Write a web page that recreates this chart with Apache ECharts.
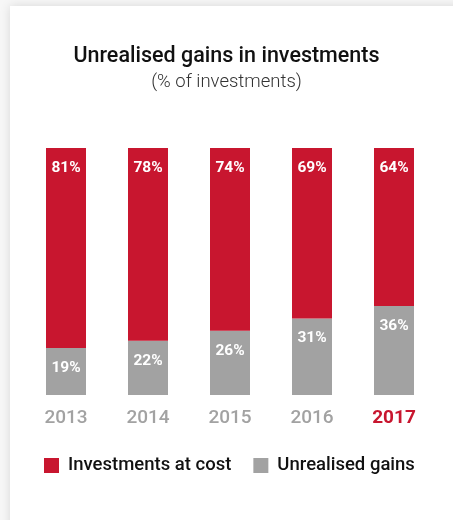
<!DOCTYPE html>
<html>
<head>
<meta charset="utf-8">
<script src="https://cdn.jsdelivr.net/npm/echarts@6/dist/echarts.min.js"></script>
<style>
  html, body { margin: 0; padding: 0; width: 453px; height: 520px; overflow: hidden; background: #f7f7f7; }
  #card { position: absolute; left: 10px; top: 6px; width: 460px; height: 530px; background: #fff; box-shadow: 0 0 10px rgba(0,0,0,0.13); }
  #chart { position: absolute; left: 0; top: 0; width: 453px; height: 520px; }
</style>
</head>
<body>
<div id="card"></div>
<div id="chart"></div>
<script>
const years = ['2013', '2014', '2015', '2016', '2017'];
const atCost = [81, 78, 74, 69, 64];
const unrealised = [19, 22, 26, 31, 36];
const highlightYear = '2017';

const RED = '#c8162f';
const GREY = '#a2a2a2';
const FONT = 'Roboto';

const chart = echarts.init(document.getElementById('chart'));

const segLabel = {
  show: true,
  position: 'insideTop',
  distance: 12,
  color: '#fff',
  fontFamily: FONT,
  fontSize: 15.5,
  fontWeight: 'bold',
  formatter: p => p.value + '%'
};

chart.setOption({
  title: {
    text: 'Unrealised gains in investments',
    subtext: '(% of investments)',
    left: 'center',
    top: 41,
    itemGap: 5,
    textStyle: { fontFamily: FONT, fontSize: 21.5, fontWeight: 500, color: '#111' },
    subtextStyle: { fontFamily: FONT, fontSize: 18.5, fontWeight: 300, color: '#333' }
  },
  legend: {
    top: 451,
    left: 39,
    itemWidth: 15,
    itemHeight: 15,
    itemGap: 22,
    icon: 'rect',
    textStyle: { fontFamily: FONT, fontSize: 18.5, fontWeight: 500, color: '#111', padding: [0, 0, 0, 4] },
    data: ['Investments at cost', 'Unrealised gains']
  },
  grid: { left: 25, right: 18, top: 148, bottom: 125 },
  xAxis: {
    type: 'category',
    data: years,
    axisLine: { show: false },
    axisTick: { show: false },
    axisLabel: {
      interval: 0,
      margin: 14,
      fontFamily: FONT,
      fontSize: 19,
      fontWeight: 500,
      color: GREY,
      formatter: v => v === highlightYear ? '{hi|' + v + '}' : v,
      rich: { hi: { fontFamily: FONT, fontSize: 19, fontWeight: 'bold', color: RED } }
    }
  },
  yAxis: { type: 'value', min: 0, max: 100, show: false },
  series: [
    {
      name: 'Unrealised gains',
      type: 'bar',
      stack: 'total',
      barWidth: 40,
      data: unrealised,
      itemStyle: { color: GREY },
      label: segLabel
    },
    {
      name: 'Investments at cost',
      type: 'bar',
      stack: 'total',
      barWidth: 40,
      data: atCost,
      itemStyle: { color: RED },
      label: segLabel
    }
  ]
});
</script>
</body>
</html>
